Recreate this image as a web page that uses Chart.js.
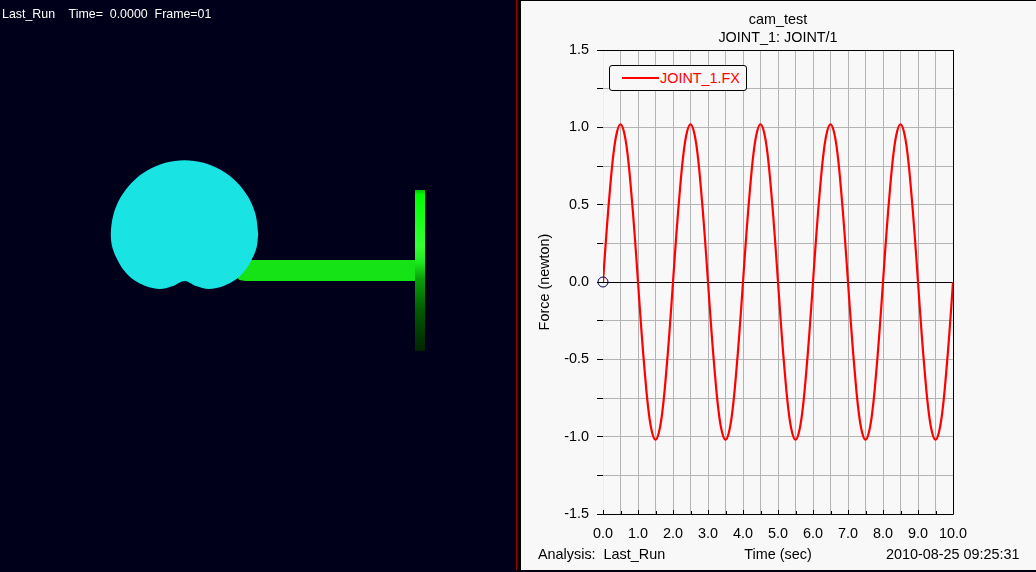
<!DOCTYPE html>
<html>
<head>
<meta charset="utf-8">
<title>cam_test</title>
<script src="https://cdn.jsdelivr.net/npm/chart.js@4"></script>
<style>
  html, body { margin: 0; padding: 0; width: 1036px; height: 572px; overflow: hidden; background: #00001a; }
  body, div, span { font-family: "Liberation Sans", Arial, sans-serif; }
  #scene { position: absolute; left: 0; top: 0; width: 516px; height: 570px; background: #00001a; border-right: 1px solid #a00000; }
  #sep { position: absolute; left: 517px; top: 0; width: 3px; height: 572px; background: #000; }
  #plot { position: absolute; left: 520px; top: 0; width: 516px; height: 570px; background: #f8f8f8; border-bottom: 1px solid #000; }
  #plot::before { content: ""; position: absolute; left: 0; top: 0; width: 1px; height: 100%; background: #000; }
  #plot::after { content: ""; position: absolute; left: 0; top: 0; width: 100%; height: 1px; background: #000; }
  #sceneChart { position: absolute; left: 0; top: 0; }
  #plotChart { position: absolute; left: 0; top: 0; }
  #status { position: absolute; left: 2px; top: 7px; color: #fff; font-size: 12.4px; line-height: 14px; white-space: pre; }
  .foot { position: absolute; top: 546px; font-size: 14.4px; line-height: 17px; color: #000; white-space: pre; }
  #legendBox { position: absolute; left: 89px; top: 65px; width: 136px; height: 24px; border: 1px solid #000; border-radius: 3px; background: #f8f8f8; }
  #legendLine { position: absolute; left: 12px; top: 11px; width: 37px; height: 2px; background: #f00; }
  #legendText { position: absolute; left: 50px; top: 4px; font-size: 14.4px; line-height: 17px; color: #f00; white-space: pre; }
</style>
</head>
<body>
<div id="scene">
  <canvas id="sceneChart" width="516" height="570"></canvas>
  <div id="status">Last_Run    Time=  0.0000  Frame=01</div>
</div>
<div id="sep"></div>
<div id="plot">
  <canvas id="plotChart" width="516" height="570"></canvas>
  <div id="legendBox"><div id="legendLine"></div><div id="legendText"></div></div>
  <div class="foot" style="left:18px">Analysis:  Last_Run</div>
  <div class="foot" style="left:366px">2010-08-25 09:25:31</div>
</div>
<script>
const seriesName = "JOINT_1.FX";
const times = [
  0.0, 0.1, 0.2, 0.3, 0.4, 0.5, 0.6, 0.7, 0.8, 0.9,
  1.0, 1.1, 1.2, 1.3, 1.4, 1.5, 1.6, 1.7, 1.8, 1.9,
  2.0, 2.1, 2.2, 2.3, 2.4, 2.5, 2.6, 2.7, 2.8, 2.9,
  3.0, 3.1, 3.2, 3.3, 3.4, 3.5, 3.6, 3.7, 3.8, 3.9,
  4.0, 4.1, 4.2, 4.3, 4.4, 4.5, 4.6, 4.7, 4.8, 4.9,
  5.0, 5.1, 5.2, 5.3, 5.4, 5.5, 5.6, 5.7, 5.8, 5.9,
  6.0, 6.1, 6.2, 6.3, 6.4, 6.5, 6.6, 6.7, 6.8, 6.9,
  7.0, 7.1, 7.2, 7.3, 7.4, 7.5, 7.6, 7.7, 7.8, 7.9,
  8.0, 8.1, 8.2, 8.3, 8.4, 8.5, 8.6, 8.7, 8.8, 8.9,
  9.0, 9.1, 9.2, 9.3, 9.4, 9.5, 9.6, 9.7, 9.8, 9.9,
  10.0
];
const forceFx = [
  0.00, 0.32, 0.60, 0.83, 0.97, 1.02, 0.97, 0.83, 0.60, 0.32,
  0.00, -0.32, -0.60, -0.83, -0.97, -1.02, -0.97, -0.83, -0.60, -0.32,
  0.00, 0.32, 0.60, 0.83, 0.97, 1.02, 0.97, 0.83, 0.60, 0.32,
  0.00, -0.32, -0.60, -0.83, -0.97, -1.02, -0.97, -0.83, -0.60, -0.32,
  0.00, 0.32, 0.60, 0.83, 0.97, 1.02, 0.97, 0.83, 0.60, 0.32,
  0.00, -0.32, -0.60, -0.83, -0.97, -1.02, -0.97, -0.83, -0.60, -0.32,
  0.00, 0.32, 0.60, 0.83, 0.97, 1.02, 0.97, 0.83, 0.60, 0.32,
  0.00, -0.32, -0.60, -0.83, -0.97, -1.02, -0.97, -0.83, -0.60, -0.32,
  0.00, 0.32, 0.60, 0.83, 0.97, 1.02, 0.97, 0.83, 0.60, 0.32,
  0.00, -0.32, -0.60, -0.83, -0.97, -1.02, -0.97, -0.83, -0.60, -0.32,
  0.00
];
const markerTime = [0];
const markerForce = [0];

// animation view, model units with the origin on the cam centre
const camX = [73.7, 71.2, 63.8, 52.1, 36.9, 19.1, 0, -19.1, -36.9, -52.1, -63.8, -71.2, -73.7, -72, -66, -60, -52, -39, -24.5, -11.5, 0, 11.5, 24.5, 39, 52, 60, 66, 72, 73.7];
const camY = [0, 19.1, 36.9, 52.1, 63.8, 71.2, 73.7, 71.2, 63.8, 52.1, 36.9, 19.1, 0, -14, -28, -37, -45, -52, -55, -52, -47, -52, -55, -52, -45, -37, -28, -14, 0];
const stemX = [230.5, 56, 52, 55, 61, 230.5, 230.5];
const stemY = [-26, -26, -43, -46, -47, -47, -26];
const plateX = [230.5, 240.5, 240.5, 230.5, 230.5];
const plateY = [44, 44, -117, -117, 44];

document.getElementById("legendText").textContent = seriesName;

const toPoints = (xs, ys) => xs.map((x, i) => ({ x: x, y: ys[i] }));

function plateGradient(context) {
  const { chart } = context;
  if (!chart.chartArea) return "#00ff00";
  const yScale = chart.scales.y;
  const g = chart.ctx.createLinearGradient(0, yScale.getPixelForValue(44), 0, yScale.getPixelForValue(-117));
  g.addColorStop(0, "#00c000");
  g.addColorStop(0.03, "#00ff00");
  g.addColorStop(0.2, "#1cff1c");
  g.addColorStop(0.35, "#33ff33");
  g.addColorStop(0.45, "#1de81d");
  g.addColorStop(0.55, "#0aa00a");
  g.addColorStop(0.75, "#005a00");
  g.addColorStop(1, "#002400");
  return g;
}

new Chart(document.getElementById("sceneChart"), {
  type: "scatter",
  data: {
    datasets: [
      { data: toPoints(plateX, plateY), showLine: true, fill: "shape", backgroundColor: plateGradient, borderWidth: 0, pointRadius: 0, order: 3 },
      { data: toPoints(stemX, stemY), showLine: true, fill: "shape", backgroundColor: "#16e316", borderWidth: 0, pointRadius: 0, order: 2 },
      { data: toPoints(camX, camY), showLine: true, fill: "shape", backgroundColor: "#19e3e3", borderWidth: 0, pointRadius: 0, tension: 0.33, order: 1 }
    ]
  },
  options: {
    responsive: false,
    animation: false,
    events: [],
    layout: { padding: 0 },
    plugins: { legend: { display: false }, tooltip: { enabled: false } },
    scales: {
      x: { display: false, type: "linear", min: -184.5, max: 331.5 },
      y: { display: false, type: "linear", min: -336, max: 234 }
    }
  }
});

const plotFrame = {
  id: "plotFrame",
  afterDraw(chart) {
    const { ctx, chartArea: a, scales } = chart;
    ctx.save();
    ctx.strokeStyle = "#000";
    ctx.lineWidth = 1;
    ctx.beginPath();
    ctx.moveTo(a.left, a.top + 0.5); ctx.lineTo(a.right + 0.5, a.top + 0.5);
    ctx.moveTo(a.right + 0.5, a.top); ctx.lineTo(a.right + 0.5, a.bottom + 0.5);
    ctx.moveTo(a.left, a.bottom + 0.5); ctx.lineTo(a.right + 0.5, a.bottom + 0.5);
    scales.x.ticks.forEach(t => {
      const px = Math.round(scales.x.getPixelForValue(t.value)) + 0.5;
      ctx.moveTo(px, a.bottom); ctx.lineTo(px, a.bottom - (t.value % 1 === 0 ? 4 : 3));
    });
    ctx.stroke();
    ctx.restore();
  }
};

const tickFont = { family: "'Liberation Sans', Arial, sans-serif", size: 14.4 };

new Chart(document.getElementById("plotChart"), {
  type: "scatter",
  data: {
    datasets: [
      { label: seriesName, data: toPoints(times, forceFx), showLine: true, borderColor: "#ff0000", borderWidth: 2.2, pointRadius: 0, tension: 0.4, order: 2 },
      { label: "marker", data: toPoints(markerTime, markerForce), pointRadius: 5, pointBackgroundColor: "rgba(0,0,0,0)", pointBorderColor: "#000050", pointBorderWidth: 1, clip: false, order: 1 }
    ]
  },
  options: {
    responsive: false,
    animation: false,
    events: [],
    layout: { padding: { left: 0, right: 0, top: 0, bottom: 6 } },
    plugins: {
      legend: { display: false },
      tooltip: { enabled: false },
      title: {
        display: true,
        text: ["cam_test", "JOINT_1: JOINT/1"],
        color: "#000",
        font: { family: tickFont.family, size: 14.4, weight: "normal", lineHeight: 1.25 },
        padding: { top: 11, bottom: 3 }
      }
    },
    scales: {
      x: {
        type: "linear",
        min: 0,
        max: 10,
        afterFit(scale) { scale.height = 50; },
        ticks: {
          stepSize: 0.5,
          autoSkip: false,
          maxRotation: 0,
          color: "#000",
          font: tickFont,
          padding: 11,
          callback: v => (v % 1 === 0 ? v.toFixed(1) : "")
        },
        grid: {
          drawTicks: false,
          color: c => (c.tick.value === 0 ? "#f6f6b0" : "#b4b4b4"),
          lineWidth: 1
        },
        border: { display: false },
        title: { display: true, text: "Time (sec)", color: "#000", font: tickFont, padding: { top: 4, bottom: 0 } }
      },
      y: {
        type: "linear",
        min: -1.5,
        max: 1.5,
        afterFit(scale) { scale.width = 83; },
        afterBuildTicks(scale) {
          scale.ticks = [-1.5, -1.25, -1, -0.75, -0.5, -0.25, 0, 0.25, 0.5, 0.75, 1, 1.25, 1.5].map(v => ({ value: v }));
        },
        ticks: {
          autoSkip: false,
          color: "#000",
          font: tickFont,
          padding: 8,
          callback: v => (Math.abs(v * 2 % 1) < 1e-9 ? v.toFixed(1) : "")
        },
        grid: {
          color: c => (c.tick.value === 0 ? "#000" : "#b4b4b4"),
          tickColor: "#000",
          tickLength: 6,
          lineWidth: 1
        },
        border: { display: false },
        title: { display: true, text: "Force (newton)", color: "#000", font: tickFont, padding: { top: 16, bottom: 0 } }
      },
      // empty right side axis, keeps the plot centred under the title
      yRight: {
        type: "linear",
        position: "right",
        min: -1.5,
        max: 1.5,
        afterFit(scale) { scale.width = 83; },
        ticks: { display: false },
        grid: { display: false },
        border: { display: false }
      }
    }
  },
  plugins: [plotFrame]
});
</script>
</body>
</html>
